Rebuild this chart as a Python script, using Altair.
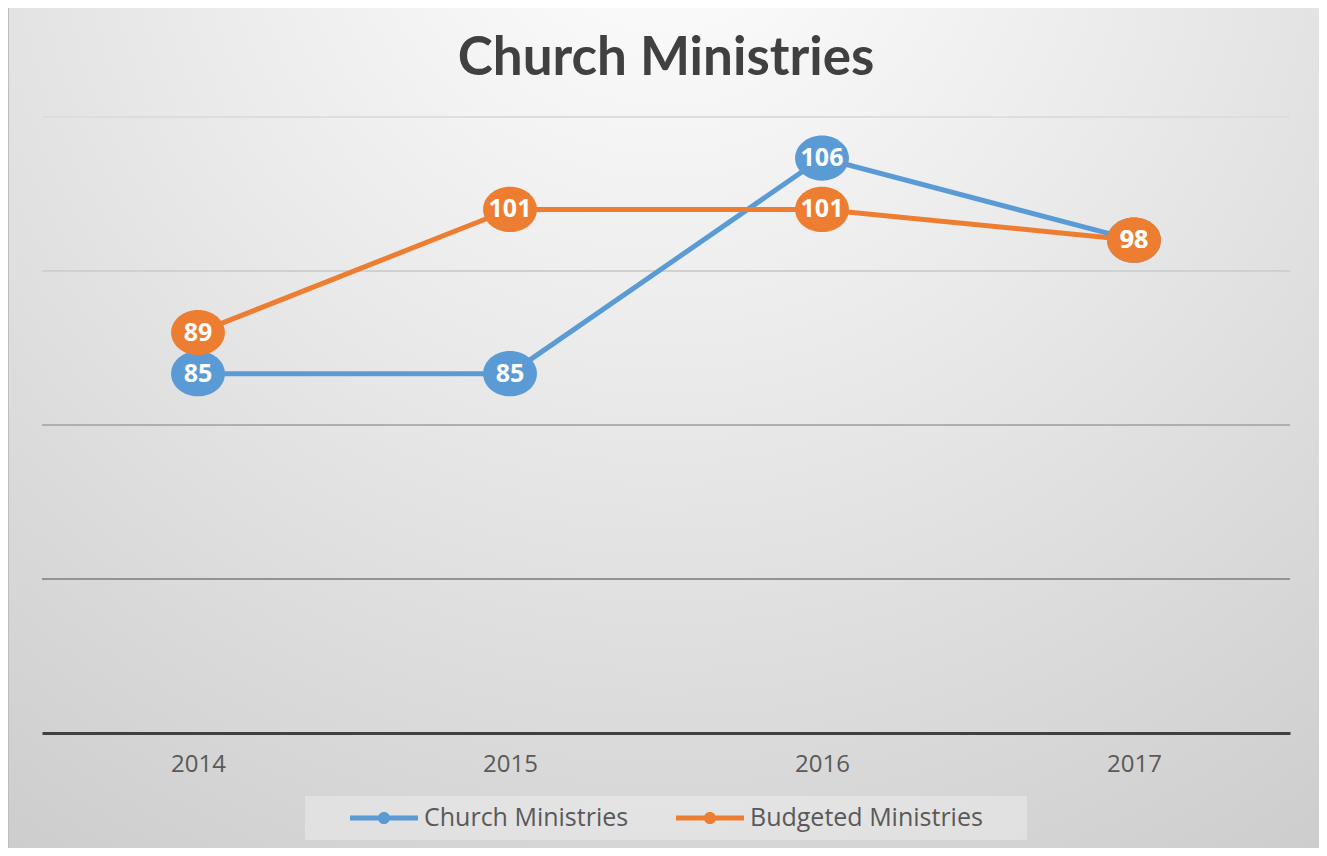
import altair as alt
import pandas as pd

years = ["2014", "2015", "2016", "2017"]
series_names = ["Church Ministries", "Budgeted Ministries"]
church = [85, 85, 106, 98]
budgeted = [89, 101, 101, 98]
series_colors = ["#5B9BD5", "#ED7D31"]
grid_values = [65, 80, 95, 110]
grid_colors = ["#939393", "#afafaf", "#d0d0d0", "#dddddd"]
title_text = "Church Ministries"

rows = []
for name, vals in zip(series_names, [church, budgeted]):
    for yr, v in zip(years, vals):
        rows.append({"Year": yr, "Series": name, "Value": v})
df = pd.DataFrame(rows)
grid_df = pd.DataFrame({"g": grid_values, "c": grid_colors})

W, H = 1248, 616

x_enc = alt.X(
    "Year:N", sort=years, title=None,
    scale=alt.Scale(type="point", padding=0.5),
    axis=alt.Axis(labelAngle=0, ticks=False, grid=False, domain=True,
                  domainColor="#404040", domainWidth=3, labelColor="#595959",
                  labelFont="Open Sans", labelFontSize=24, labelPadding=19,
                  zindex=1),
)
y_scale = alt.Scale(domain=[50, 110], nice=False, zero=False)
y_enc = alt.Y("Value:Q", scale=y_scale, axis=None)
color_scale = alt.Scale(domain=series_names, range=series_colors)

gradient = {
    "gradient": "radial",
    "x1": 0.5, "y1": 0.08, "r1": 0,
    "x2": 0.5, "y2": 0.08, "r2": 1.05,
    "stops": [
        {"offset": 0.0, "color": "#ffffff"},
        {"offset": 0.35, "color": "#ebebeb"},
        {"offset": 0.7, "color": "#d6d6d6"},
        {"offset": 1.0, "color": "#c4c4c4"},
    ],
}

one = alt.Data(values=[{"k": 1}])

bg = alt.Chart(one).mark_rect(fill=gradient, stroke="#bdbdbd", strokeWidth=2).encode(
    x=alt.value(-34), x2=alt.value(1279), y=alt.value(-110), y2=alt.value(732)
)

legend_bg = alt.Chart(one).mark_rect(fill="#ffffff", opacity=0.3).encode(
    x=alt.value(263), x2=alt.value(985), y=alt.value(679), y2=alt.value(723)
)

title = alt.Chart(alt.Data(values=[{"t": title_text}])).mark_text(
    font="Lato", fontWeight="bold", fontSize=53, color="#404040",
    align="center", baseline="alphabetic"
).encode(x=alt.value(W / 2), y=alt.value(-42), text="t:N")

grid = alt.Chart(grid_df).mark_rule(strokeWidth=2).encode(
    y=alt.Y("g:Q", scale=y_scale, axis=None),
    color=alt.Color("c:N", scale=None, legend=None),
)

lines = alt.Chart(df).mark_line(strokeWidth=5).encode(
    x=x_enc, y=y_enc,
    stroke=alt.Stroke("Series:N", scale=color_scale, legend=None),
)

ellipse = "M-1,0A1,0.84 0 1,1 1,0A1,0.84 0 1,1 -1,0Z"
legend_symbol = ("M-1,-0.07L1,-0.07L1,0.07L-1,0.07Z"
                 "M-0.18,0A0.18,0.18 0 1,1 0.18,0A0.18,0.18 0 1,1 -0.18,0Z")

points = alt.Chart(df).mark_point(
    filled=True, opacity=1, shape=ellipse, size=2900, strokeWidth=0
).encode(
    x=x_enc, y=y_enc,
    color=alt.Color(
        "Series:N", scale=color_scale,
        legend=alt.Legend(
            title=None, orient="none", legendX=308, legendY=667,
            direction="horizontal", columns=2, columnPadding=47,
            symbolType=legend_symbol, symbolSize=4624, symbolStrokeWidth=0,
            symbolOpacity=1, labelFont="Open Sans", labelFontSize=25,
            labelColor="#595959", labelOffset=6, labelLimit=400, padding=0,
            zindex=2,
        ),
    ),
)

labels = alt.Chart(df).mark_text(
    font="Open Sans", fontWeight="bold", fontSize=25, color="white",
    align="center", baseline="middle"
).encode(x=x_enc, y=y_enc, text="Value:Q")

chart = alt.layer(bg, legend_bg, title, grid, lines, points, labels).resolve_scale(
    color="independent", stroke="independent"
).resolve_legend(
    color="independent", stroke="independent"
).properties(
    width=W, height=H,
    padding={"left": 34, "top": 109, "right": 29, "bottom": 115},
    autosize=alt.AutoSizeParams(type="none"),
    background="white",
).configure_view(stroke=None)

chart.save("out.html", embed_options={"renderer": "svg", "actions": False})
